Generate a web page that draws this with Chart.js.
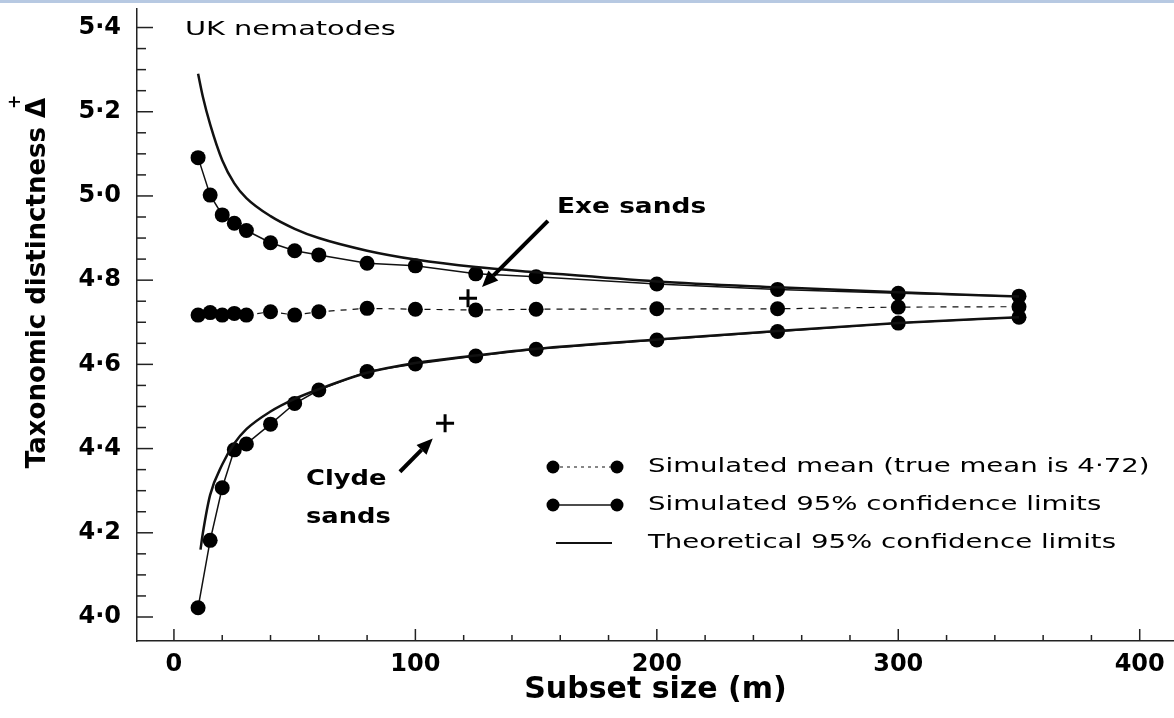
<!DOCTYPE html>
<html>
<head>
<meta charset="utf-8">
<title>UK nematodes - taxonomic distinctness</title>
<script src="https://cdn.jsdelivr.net/npm/chart.js@4.4.1/dist/chart.umd.min.js"></script>
<style>
  html, body { margin: 0; padding: 0; background: #fff; }
  #wrap { width: 1174px; height: 718px; }
</style>
</head>
<body>
<div id="wrap"><canvas id="distChart" width="1174" height="718"></canvas></div>
<script>
// subset sizes (m) used in the simulation
const subsetSizes = [10, 15, 20, 25, 30, 40, 50, 60, 80, 100, 125, 150, 200, 250, 300, 350];
const simMean  = [4.717, 4.723, 4.717, 4.721, 4.717, 4.725, 4.717, 4.725, 4.733, 4.731, 4.729, 4.731, 4.732, 4.732, 4.736, 4.737];
const simUpper = [5.091, 5.002, 4.955, 4.935, 4.918, 4.889, 4.870, 4.860, 4.840, 4.834, 4.815, 4.808, 4.791, 4.778, 4.769, 4.762];
const simLower = [4.022, 4.182, 4.307, 4.397, 4.411, 4.458, 4.507, 4.539, 4.583, 4.601, 4.620, 4.636, 4.658, 4.678, 4.698, 4.712];

// theoretical 95% limits
const theoryUpperX = [10, 12, 15, 20, 25, 30, 40, 50, 60, 80, 100, 125, 150, 200, 250, 300, 350];
const theoryUpper  = [5.29, 5.235, 5.17, 5.085, 5.03, 4.995, 4.952, 4.922, 4.900, 4.870, 4.849, 4.831, 4.819, 4.797, 4.783, 4.771, 4.761];
const theoryLowerX = [11, 12, 15, 20, 25, 30, 40, 50, 60, 80, 100, 125, 150, 200, 250, 300, 350];
const theoryLower  = [4.16, 4.20, 4.29, 4.362, 4.412, 4.446, 4.488, 4.518, 4.541, 4.580, 4.603, 4.621, 4.637, 4.659, 4.679, 4.698, 4.712];

// observed sites (+) and their arrows, in data units
const siteNames = ['Exe sands', 'Clyde sands'];
const siteX = [121.8, 112.3];
const siteY = [4.757, 4.46];
const arrowFromX = [154.9, 93.6];
const arrowFromY = [4.941, 4.345];
const arrowToX = [127.6, 107.2];
const arrowToY = [4.784, 4.424];

// axes
const xTickValues = [0, 100, 200, 300, 400];
const yTickValues = [4.0, 4.2, 4.4, 4.6, 4.8, 5.0, 5.2, 5.4];
const yTickLabels = ['4·0', '4·2', '4·4', '4·6', '4·8', '5·0', '5·2', '5·4'];
const xMin = -15.3, xMax = 414.2;
const yMin = 3.943, yMax = 5.444;

const legendLabels = [
    'Simulated mean (true mean is 4·72)',
    'Simulated 95% confidence limits',
    'Theoretical 95% confidence limits'
];

const INK = '#111';
const pts = (xs, ys) => xs.map((x, i) => ({ x: x, y: ys[i] }));

function wideText(ctx, text, x, y, font, stretch) {
    ctx.save();
    ctx.font = font;
    ctx.fillStyle = '#000';
    ctx.textBaseline = 'middle';
    ctx.translate(x, y);
    ctx.scale(stretch, 1);
    ctx.fillText(text, 0, 0);
    ctx.restore();
}

function drawArrow(ctx, x1, y1, x2, y2, width, headLen, headHalf) {
    const ang = Math.atan2(y2 - y1, x2 - x1);
    const bx = x2 - Math.cos(ang) * headLen;
    const by = y2 - Math.sin(ang) * headLen;
    ctx.save();
    ctx.strokeStyle = '#000';
    ctx.fillStyle = '#000';
    ctx.lineWidth = width;
    ctx.beginPath();
    ctx.moveTo(x1, y1);
    ctx.lineTo(bx, by);
    ctx.stroke();
    ctx.beginPath();
    ctx.moveTo(x2, y2);
    ctx.lineTo(bx + Math.sin(ang) * headHalf, by - Math.cos(ang) * headHalf);
    ctx.lineTo(bx - Math.sin(ang) * headHalf, by + Math.cos(ang) * headHalf);
    ctx.closePath();
    ctx.fill();
    ctx.restore();
}

// white page + thin blue rule along the top edge
const pageBackground = {
    id: 'pageBackground',
    beforeDraw(chart) {
        const ctx = chart.ctx;
        ctx.save();
        ctx.fillStyle = '#fff';
        ctx.fillRect(0, 0, chart.width, chart.height);
        ctx.fillStyle = '#b7c9e2';
        ctx.fillRect(0, 0, chart.width, 3);
        ctx.restore();
    }
};

// tick marks point into the plot, with minor ticks
const inwardTicks = {
    id: 'inwardTicks',
    afterDraw(chart) {
        const { ctx, chartArea: a, scales: { x, y } } = chart;
        ctx.save();
        ctx.strokeStyle = '#222';
        ctx.lineWidth = 1.5;
        for (let v = 0; v <= 400; v += 20) {
            const px = x.getPixelForValue(v);
            const len = v % 100 === 0 ? 12 : 6;
            ctx.beginPath();
            ctx.moveTo(px, a.bottom);
            ctx.lineTo(px, a.bottom - len);
            ctx.stroke();
        }
        for (let i = 0; i <= 28; i++) {
            const py = y.getPixelForValue(4 + i * 0.05);
            const len = i % 4 === 0 ? 16 : 9;
            ctx.beginPath();
            ctx.moveTo(a.left, py);
            ctx.lineTo(a.left + len, py);
            ctx.stroke();
        }
        ctx.restore();
    }
};

// labels, arrows, legend and the y axis title
const annotations = {
    id: 'annotations',
    afterDraw(chart) {
        const { ctx, scales: { x, y } } = chart;

        wideText(ctx, 'UK nematodes', 185, 30, '20px "DejaVu Sans"', 1.44);

        wideText(ctx, 'Exe sands', 557, 207, 'bold 22px "DejaVu Sans"', 1.2);
        wideText(ctx, 'Clyde', 306, 479, 'bold 22px "DejaVu Sans"', 1.17);
        wideText(ctx, 'sands', 306, 517, 'bold 22px "DejaVu Sans"', 1.17);

        for (let i = 0; i < siteNames.length; i++) {
            drawArrow(ctx,
                x.getPixelForValue(arrowFromX[i]), y.getPixelForValue(arrowFromY[i]),
                x.getPixelForValue(arrowToX[i]), y.getPixelForValue(arrowToY[i]),
                4, 16, 7);
        }

        // legend
        const rows = [467, 505, 543];
        ctx.save();
        ctx.strokeStyle = INK;
        ctx.fillStyle = '#000';
        rows.forEach((ry, i) => {
            if (i < 2) {
                ctx.lineWidth = i === 0 ? 1.2 : 1.5;
                ctx.setLineDash(i === 0 ? [3, 4] : []);
                ctx.beginPath();
                ctx.moveTo(553, ry);
                ctx.lineTo(617, ry);
                ctx.stroke();
                ctx.setLineDash([]);
                [553, 617].forEach(cx => {
                    ctx.beginPath();
                    ctx.arc(cx, ry, 6.5, 0, Math.PI * 2);
                    ctx.fill();
                });
            } else {
                ctx.lineWidth = 2;
                ctx.beginPath();
                ctx.moveTo(556, ry);
                ctx.lineTo(612, ry);
                ctx.stroke();
            }
        });
        ctx.restore();
        legendLabels.forEach((txt, i) => {
            wideText(ctx, txt, 648, rows[i], '20px "DejaVu Sans"', 1.38);
        });

        // y axis title, Delta with a plus above it
        ctx.save();
        ctx.translate(38, 283);
        ctx.rotate(-Math.PI / 2);
        ctx.fillStyle = '#000';
        ctx.font = 'bold 26px "DejaVu Sans"';
        ctx.textBaseline = 'middle';
        ctx.textAlign = 'center';
        const title = 'Taxonomic distinctness Δ';
        const w = ctx.measureText(title).width;
        const wd = ctx.measureText('Δ').width;
        ctx.fillText(title, 0, 0);
        ctx.font = 'bold 17px "DejaVu Sans"';
        ctx.fillText('+', w / 2 - wd * 0.2, -22);
        ctx.restore();
    }
};

const canvas = document.getElementById('distChart');

new Chart(canvas, {
    type: 'scatter',
    data: {
        datasets: [
            {
                label: 'Theoretical 95% confidence limits',
                data: pts(theoryUpperX, theoryUpper),
                showLine: true,
                borderColor: INK,
                borderWidth: 2.5,
                pointRadius: 0,
                cubicInterpolationMode: 'monotone'
            },
            {
                label: 'Theoretical 95% confidence limits (lower)',
                data: pts(theoryLowerX, theoryLower),
                showLine: true,
                borderColor: INK,
                borderWidth: 2.5,
                pointRadius: 0,
                cubicInterpolationMode: 'monotone'
            },
            {
                label: 'Simulated 95% confidence limits',
                data: pts(subsetSizes, simUpper),
                showLine: true,
                borderColor: INK,
                borderWidth: 1.5,
                pointRadius: 7.5,
                pointBackgroundColor: '#000',
                pointBorderWidth: 0
            },
            {
                label: 'Simulated 95% confidence limits (lower)',
                data: pts(subsetSizes, simLower),
                showLine: true,
                borderColor: INK,
                borderWidth: 1.5,
                pointRadius: 7.5,
                pointBackgroundColor: '#000',
                pointBorderWidth: 0
            },
            {
                label: 'Simulated mean (true mean is 4·72)',
                data: pts(subsetSizes, simMean),
                showLine: true,
                borderColor: INK,
                borderWidth: 1.2,
                borderDash: [6, 6],
                pointRadius: 7.5,
                pointBackgroundColor: '#000',
                pointBorderWidth: 0
            },
            {
                label: 'Sites',
                data: pts(siteX, siteY),
                showLine: false,
                pointStyle: 'cross',
                pointRadius: 9,
                pointBorderWidth: 3,
                borderColor: '#000'
            }
        ]
    },
    options: {
        responsive: false,
        animation: false,
        layout: {
            autoPadding: false,
            padding: { top: 9, right: 0, bottom: 0, left: 0 }
        },
        plugins: {
            legend: { display: false },
            tooltip: { enabled: false }
        },
        scales: {
            x: {
                type: 'linear',
                min: xMin,
                max: xMax,
                afterFit: s => {
                    s.height = 77;
                    s.paddingLeft = 0;
                    s.paddingRight = 0;
                },
                afterBuildTicks: s => { s.ticks = xTickValues.map(v => ({ value: v })); },
                grid: { display: false, drawTicks: false },
                border: { display: true, color: '#222', width: 1.5 },
                ticks: {
                    color: '#000',
                    padding: 9,
                    autoSkip: false,
                    maxRotation: 0,
                    font: { family: 'DejaVu Sans', size: 24, weight: 'bold' }
                },
                title: {
                    display: true,
                    text: 'Subset size (m)',
                    color: '#000',
                    padding: { top: 0, bottom: 10 },
                    font: { family: 'DejaVu Sans', size: 30, weight: 'bold' }
                }
            },
            y: {
                type: 'linear',
                min: yMin,
                max: yMax,
                afterFit: s => {
                    s.width = 137;
                    s.paddingTop = 0;
                    s.paddingBottom = 0;
                },
                afterBuildTicks: s => { s.ticks = yTickValues.map(v => ({ value: v })); },
                grid: { display: false, drawTicks: false },
                border: { display: true, color: '#222', width: 1.5 },
                ticks: {
                    color: '#000',
                    padding: 16,
                    autoSkip: false,
                    font: { family: 'DejaVu Sans', size: 24, weight: 'bold' },
                    callback: v => yTickLabels[yTickValues.indexOf(v)]
                }
            }
        }
    },
    plugins: [pageBackground, inwardTicks, annotations]
});
</script>
</body>
</html>
